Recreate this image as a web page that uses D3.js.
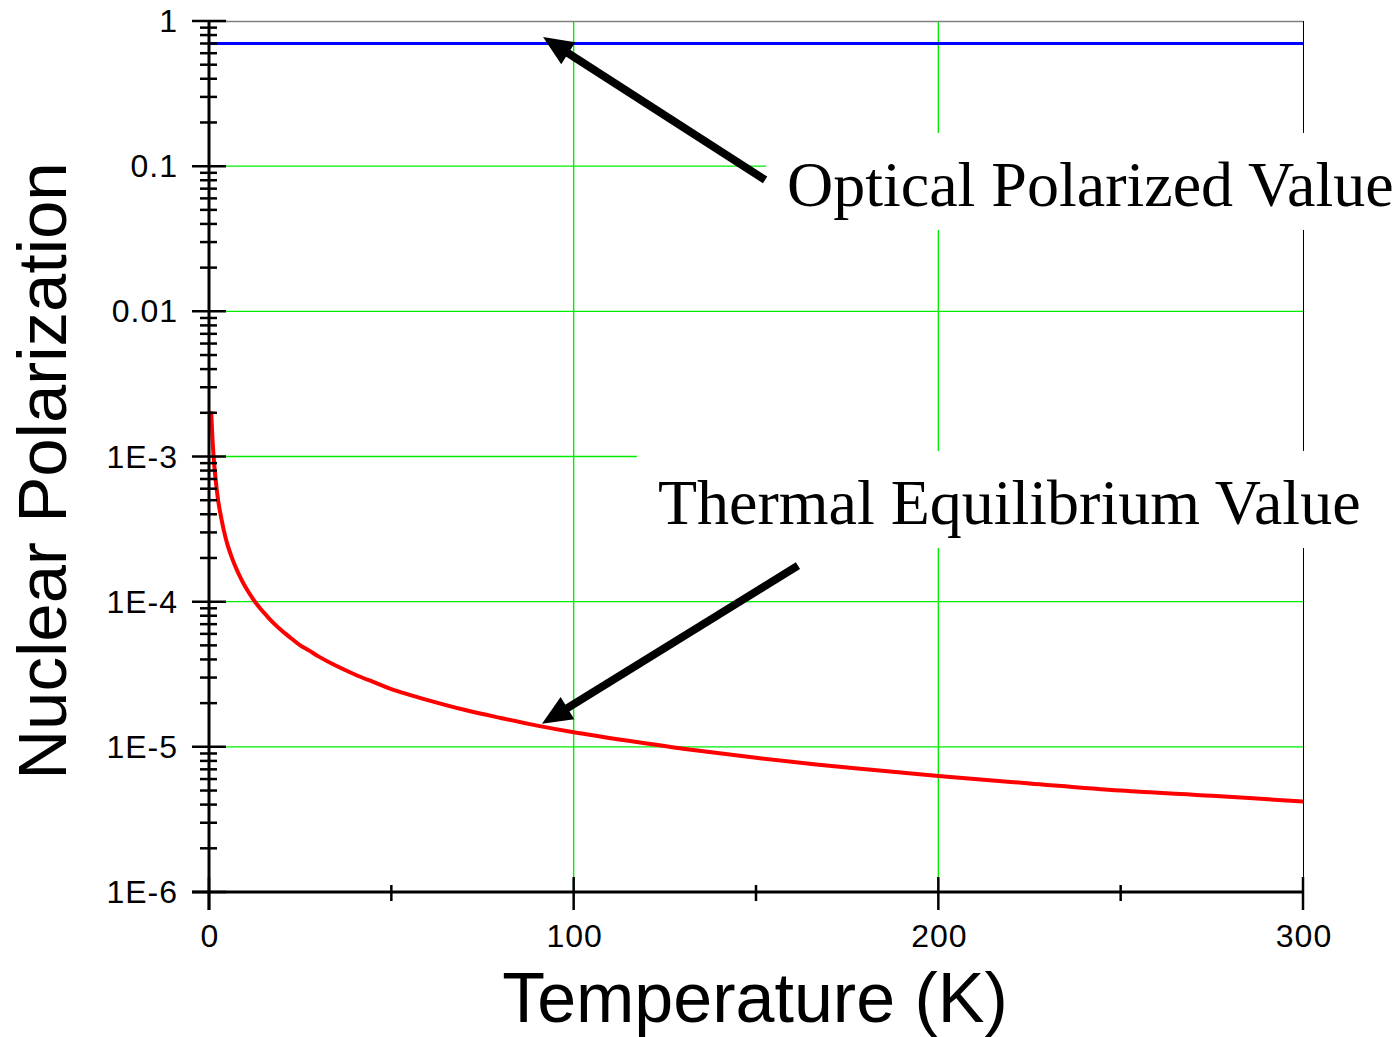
<!DOCTYPE html>
<html><head><meta charset="utf-8">
<script src="https://cdn.jsdelivr.net/npm/d3@7"></script>
<style>html,body{margin:0;padding:0;background:#fff;}svg{display:block;}</style>
</head><body>
<svg id="c" width="1399" height="1037"></svg>
<script>
// ---- data ----
const thermalT = [0.6, 0.8, 1, 1.25, 1.5, 2, 2.5, 3, 4, 5, 6, 7, 8, 10, 12, 14, 16, 18, 20, 22.5, 25, 27.5, 30, 35, 40, 45, 50, 60, 70, 80, 90, 100, 115, 130, 150, 175, 200, 225, 250, 275, 300];
const thermalP = [2.05e-3, 1.58e-3, 1.26e-3, 1.01e-3, 8.4e-4, 6.3e-4, 5.0e-4, 4.2e-4, 3.15e-4, 2.5e-4, 2.1e-4, 1.8e-4, 1.58e-4, 1.26e-4, 1.05e-4, 9.0e-5, 7.9e-5, 7.0e-5, 6.3e-5, 5.6e-5, 5.0e-5, 4.6e-5, 4.2e-5, 3.6e-5, 3.15e-5, 2.8e-5, 2.5e-5, 2.1e-5, 1.8e-5, 1.58e-5, 1.4e-5, 1.26e-5, 1.1e-5, 9.7e-6, 8.4e-6, 7.2e-6, 6.3e-6, 5.6e-6, 5.0e-6, 4.6e-6, 4.2e-6];
const opticalT = [0, 300];
const opticalP = [0.7, 0.7];
const xTicks = [0, 100, 200, 300];
const xMinorTicks = [50, 150, 250];
const yTicks = [1e-6, 1e-5, 1e-4, 1e-3, 1e-2, 1e-1, 1];
const yTickLabels = ["1E-6", "1E-5", "1E-4", "1E-3", "0.01", "0.1", "1"];
const xTitle = "Temperature (K)";
const yTitle = "Nuclear Polarization";
const annotations = [
  {text: "Optical Polarized Value", tx: 158.5, ty: 0.0532, fromT: 152.5, fromP: 0.0804, toT: 91.6, toP: 0.776},
  {text: "Thermal Equilibrium Value", tx: 123.1, ty: 3.43e-4, fromT: 161.5, fromP: 1.77e-4, toT: 91.3, toP: 1.44e-5}
];

// ---- layout ----
const W = 1399, H = 1037;
const L = 209, R = 1303, T = 21, B = 892;
const x = d3.scaleLinear().domain([0, 300]).range([L, R]);
const y = d3.scaleLog().domain([1e-6, 1]).range([B, T]);
const svg = d3.select("#c");
const sans = "'Liberation Sans', Arial, sans-serif";
const serif = "'Liberation Serif', 'Times New Roman', serif";

// gridlines
const grid = svg.append("g").attr("stroke", "#00ee00").attr("stroke-width", 1.4);
yTicks.filter(v => v > 1e-6 && v < 1).forEach(v => {
  grid.append("line").attr("x1", L).attr("x2", R).attr("y1", y(v)).attr("y2", y(v));
});
xTicks.filter(v => v > 0 && v < 300).forEach(v => {
  grid.append("line").attr("x1", x(v)).attr("x2", x(v)).attr("y1", T).attr("y2", B);
});
// frame top (gray) and right (black thin)
svg.append("line").attr("x1", L).attr("x2", R).attr("y1", T + 0.5).attr("y2", T + 0.5)
  .attr("stroke", "#808080").attr("stroke-width", 1.5);
svg.append("line").attr("x1", R + 0.5).attr("x2", R + 0.5).attr("y1", T).attr("y2", B)
  .attr("stroke", "#000").attr("stroke-width", 1);

// data lines
const line = d3.line().x(d => x(d[0])).y(d => y(d[1])).curve(d3.curveCatmullRom);
svg.append("path").datum(opticalT.map((t, i) => [t, opticalP[i]]))
  .attr("d", line).attr("fill", "none").attr("stroke", "#0000ff").attr("stroke-width", 3.2);
svg.append("path").datum(thermalT.map((t, i) => [t, thermalP[i]]))
  .attr("d", line).attr("fill", "none").attr("stroke", "#ff0000").attr("stroke-width", 4);

// axes
const ax = svg.append("g").attr("stroke", "#000");
ax.append("line").attr("x1", L).attr("x2", L).attr("y1", T).attr("y2", 910).attr("stroke-width", 3);
ax.append("line").attr("x1", 192).attr("x2", R).attr("y1", B).attr("y2", B).attr("stroke-width", 3);
// y ticks
yTicks.forEach(v => {
  ax.append("line").attr("x1", 192).attr("x2", 226).attr("y1", y(v)).attr("y2", y(v)).attr("stroke-width", 2.5);
});
for (let e = -6; e < 0; e++) {
  for (let m = 2; m <= 9; m++) {
    const v = m * Math.pow(10, e);
    ax.append("line").attr("x1", 200).attr("x2", 217).attr("y1", y(v)).attr("y2", y(v)).attr("stroke-width", 2.5);
  }
}
// x ticks
xTicks.forEach(v => {
  ax.append("line").attr("x1", x(v)).attr("x2", x(v)).attr("y1", 877).attr("y2", 910).attr("stroke-width", 2.5);
});
xMinorTicks.forEach(v => {
  ax.append("line").attr("x1", x(v)).attr("x2", x(v)).attr("y1", 885).attr("y2", 901).attr("stroke-width", 2.5);
});

// tick labels
const tl = svg.append("g").attr("font-family", sans).attr("font-size", 32).attr("fill", "#000").attr("letter-spacing", "1px");
yTicks.forEach((v, i) => {
  tl.append("text").attr("x", 178).attr("y", y(v) + 11).attr("text-anchor", "end").text(yTickLabels[i]);
});
xTicks.forEach(v => {
  tl.append("text").attr("x", x(v) + 1).attr("y", 947).attr("text-anchor", "middle").text(String(v));
});

// axis titles
svg.append("text").attr("x", 755).attr("y", 1022).attr("text-anchor", "middle")
  .attr("font-family", sans).attr("font-size", 70).text(xTitle);
svg.append("text").attr("transform", "translate(66,471) rotate(-90)").attr("text-anchor", "middle")
  .attr("font-family", sans).attr("font-size", 69).text(yTitle);

// annotations: white boxes, text, arrows
annotations.forEach(a => {
  const tx = x(a.tx), ty = y(a.ty);
  svg.append("rect").attr("x", tx - 21).attr("y", ty - 73).attr("width", W - (tx - 21)).attr("height", 97).attr("fill", "#fff");
  svg.append("text").attr("x", tx).attr("y", ty).attr("font-family", serif).attr("font-size", 64).attr("fill", "#000").text(a.text);
});
annotations.forEach(a => {
  const x0 = x(a.fromT), y0 = y(a.fromP), x1 = x(a.toT), y1 = y(a.toP);
  const ang = Math.atan2(y1 - y0, x1 - x0);
  const hl = 30, hw = 13;
  const bx = x1 - hl * Math.cos(ang), by = y1 - hl * Math.sin(ang);
  svg.append("line").attr("x1", x0).attr("y1", y0).attr("x2", bx + 4 * Math.cos(ang)).attr("y2", by + 4 * Math.sin(ang))
    .attr("stroke", "#000").attr("stroke-width", 8);
  const px = -Math.sin(ang), py = Math.cos(ang);
  svg.append("path").attr("d", `M${x1},${y1}L${bx + hw * px},${by + hw * py}L${bx - hw * px},${by - hw * py}Z`).attr("fill", "#000");
});
</script>
</body></html>
